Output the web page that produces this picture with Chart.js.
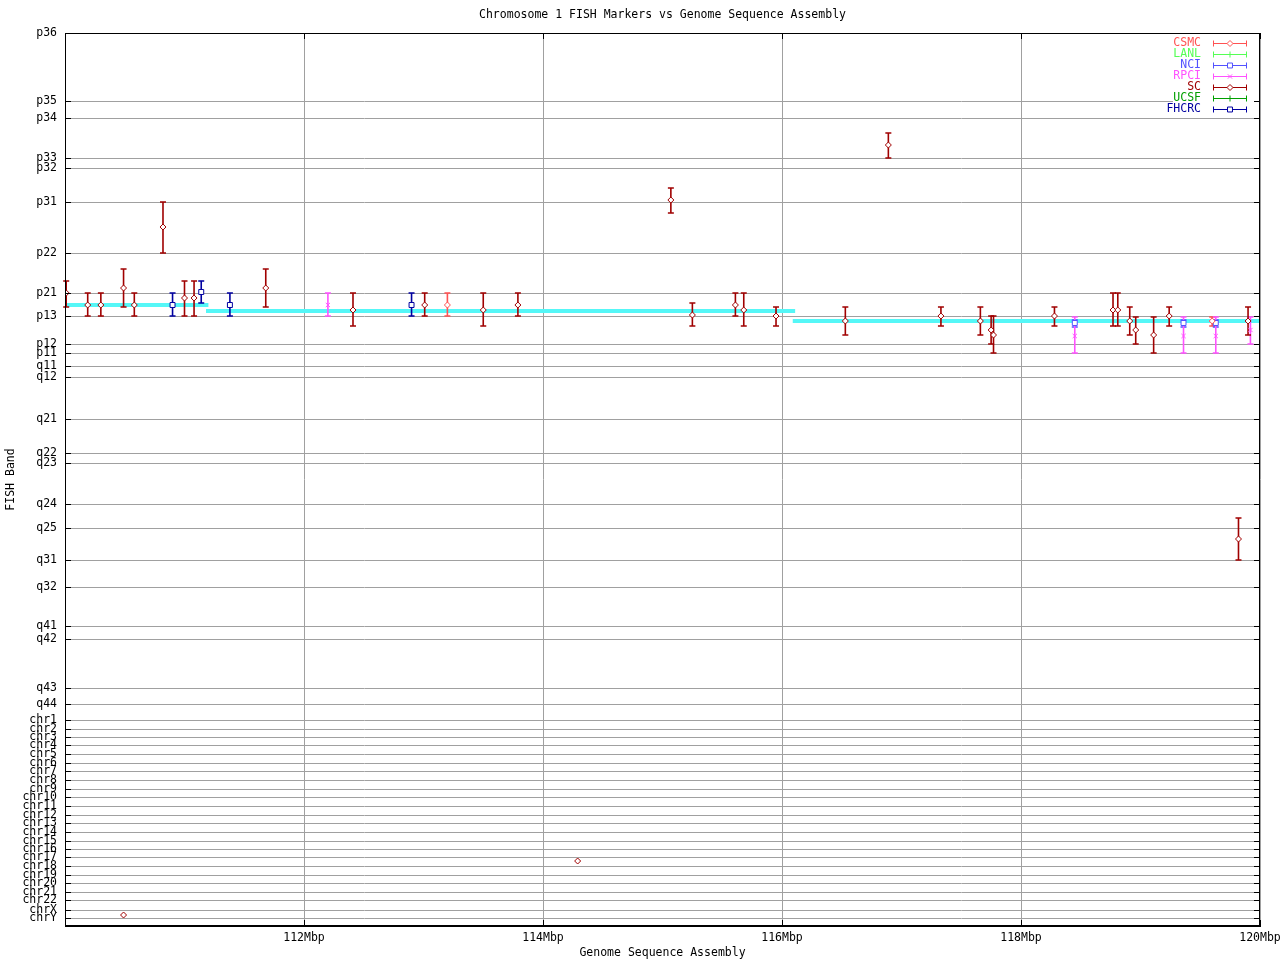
<!DOCTYPE html>
<html>
<head>
<meta charset="utf-8">
<title>Chromosome 1 FISH Markers vs Genome Sequence Assembly</title>
<script src="https://cdn.jsdelivr.net/npm/chart.js@4.4.1/dist/chart.umd.min.js"></script>
<style>
  html, body { margin: 0; padding: 0; background: #ffffff; }
  #chart { display: block; }
</style>
</head>
<body>
<canvas id="chart" width="1280" height="960"></canvas>
<script>
// 染色体带标签 和 它们在纵轴上的位置
const bandLabels = ['p36', 'p35', 'p34', 'p33', 'p32', 'p31', 'p22', 'p21', 'p13', 'p12', 'p11',
  'q11', 'q12', 'q21', 'q22', 'q23', 'q24', 'q25', 'q31', 'q32', 'q41', 'q42', 'q43', 'q44',
  'chr1', 'chr2', 'chr3', 'chr4', 'chr5', 'chr6', 'chr7', 'chr8', 'chr9', 'chr10', 'chr11', 'chr12',
  'chr13', 'chr14', 'chr15', 'chr16', 'chr17', 'chr18', 'chr19', 'chr20', 'chr21', 'chr22', 'chrX', 'chrY'];
const bandPos = [0, 68, 85, 125, 135, 169, 220, 260, 283, 311, 320,
  333, 344, 386, 420, 430, 471, 495, 527, 554, 593, 606, 655, 671,
  687, 696, 704, 712, 721, 730, 738, 747, 756, 764, 773, 782,
  790, 799, 808, 816, 824, 833, 842, 850, 859, 867, 877, 885];
const bandMax = 893;

// 横轴 (Mbp)
const xTicks = [110, 112, 114, 116, 118, 120];

// 序列组装 contig (青色)
const contigStart = [110.0, 111.18, 116.09];
const contigEnd = [111.2, 116.11, 120.0];
const contigBand = [272, 278, 288];

// SC
const scPos = [110.01, 110.19, 110.30, 110.49, 110.58, 110.82, 111.00, 111.08, 111.68, 112.41,
  113.01, 113.50, 113.79, 115.07, 115.25, 115.61, 115.68, 115.95, 116.53, 116.89,
  117.33, 117.66, 117.75, 117.77, 118.28, 118.77, 118.81, 118.91, 118.96, 119.11,
  119.24, 119.82, 119.90, 110.49, 114.29];
const scBand = [260, 272, 272, 255, 272, 194, 265, 265, 255, 277,
  272, 277, 272, 167, 282, 272, 277, 283, 288, 112,
  283, 288, 297, 302, 283, 277, 277, 288, 297, 302,
  283, 506, 288, 882, 828];
const scLow = [248, 260, 260, 236, 260, 169, 248, 248, 236, 260,
  260, 260, 260, 155, 270, 260, 260, 274, 274, 100,
  274, 274, 283, 283, 274, 260, 260, 274, 284, 284,
  274, 485, 274, null, null];
const scHigh = [274, 283, 283, 274, 283, 220, 283, 283, 274, 293,
  283, 293, 283, 180, 293, 283, 293, 293, 302, 125,
  293, 302, 311, 320, 293, 293, 293, 302, 311, 320,
  293, 527, 302, null, null];

// FHCRC
const fhcrcPos = [110.90, 111.14, 111.38, 112.90];
const fhcrcBand = [272, 259, 272, 272];
const fhcrcLow = [260, 248, 260, 260];
const fhcrcHigh = [283, 270, 283, 283];

// CSMC
const csmcPos = [113.20, 119.60];
const csmcBand = [272, 288];
const csmcLow = [260, 284];
const csmcHigh = [283, 293];

// RPCI
const rpciPos = [112.20, 118.45, 119.36, 119.63, 119.92];
const rpciBand = [272, 303, 303, 303, 297];
const rpciLow = [260, 284, 284, 284, 284];
const rpciHigh = [283, 320, 320, 320, 311];

// NCI
const nciPos = [118.45, 119.36, 119.63];
const nciBand = [290, 290, 290];
const nciLow = [287, 287, 287];
const nciHigh = [294, 294, 294];

// LANL, UCSF (本区间没有数据)
const lanlPos = [];
const lanlBand = [];
const ucsfPos = [];
const ucsfBand = [];

const FONT = "'DejaVu Sans Mono', 'Liberation Mono', monospace";
Chart.defaults.font.family = FONT;
Chart.defaults.font.size = 11.5;
Chart.defaults.color = '#000000';

function toPoints(pos, band) {
  return pos.map(function(x, i) { return { x: x, y: band[i] }; });
}

function series(label, color, style, radius, pos, band, low, high) {
  return {
    label: label,
    data: toPoints(pos, band),
    low: low || [],
    high: high || [],
    borderColor: color,
    backgroundColor: '#ffffff',
    pointStyle: style,
    pointRadius: radius,
    pointBorderWidth: 1,
    showLine: false
  };
}

// contig 线段, 用 null 断开
const contigData = [];
contigStart.forEach(function(s, i) {
  contigData.push({ x: s, y: contigBand[i] });
  contigData.push({ x: contigEnd[i], y: contigBand[i] });
  contigData.push({ x: contigEnd[i], y: null });
});

const datasets = [
  series('CSMC', '#ff5252', 'rectRot', 3, csmcPos, csmcBand, csmcLow, csmcHigh),
  series('LANL', '#55ff55', 'cross', 3, lanlPos, lanlBand),
  series('NCI', '#5252ff', 'rect', 3.5, nciPos, nciBand, nciLow, nciHigh),
  series('RPCI', '#ff52ff', 'crossRot', 3, rpciPos, rpciBand, rpciLow, rpciHigh),
  series('SC', '#a00000', 'rectRot', 3, scPos, scBand, scLow, scHigh),
  series('UCSF', '#00a000', 'cross', 3, ucsfPos, ucsfBand),
  series('FHCRC', '#0000a0', 'rect', 3.5, fhcrcPos, fhcrcBand, fhcrcLow, fhcrcHigh),
  {
    label: 'contig',
    data: contigData,
    showLine: true,
    spanGaps: false,
    borderColor: '#55f7f7',
    borderWidth: 4,
    pointRadius: 0,
    order: 10
  }
];
const contigIndex = datasets.length - 1;

// 误差线: 在 contig 之后、标记之前画
const errorBars = {
  id: 'errorBars',
  afterDatasetDraw: function(chart, args) {
    if (args.index !== contigIndex) return;
    const xs = chart.scales.x, ys = chart.scales.y, ctx = chart.ctx;
    ctx.save();
    ctx.lineWidth = 1.6;
    chart.data.datasets.forEach(function(ds) {
      if (!ds.low || !ds.low.length) return;
      ctx.strokeStyle = ds.borderColor;
      ds.data.forEach(function(p, i) {
        if (ds.low[i] == null) return;
        const px = xs.getPixelForValue(p.x);
        const y1 = ys.getPixelForValue(ds.low[i]);
        const y2 = ys.getPixelForValue(ds.high[i]);
        ctx.beginPath();
        ctx.moveTo(px, y1); ctx.lineTo(px, y2);
        ctx.moveTo(px - 3, y1); ctx.lineTo(px + 3, y1);
        ctx.moveTo(px - 3, y2); ctx.lineTo(px + 3, y2);
        ctx.stroke();
      });
    });
    ctx.restore();
  }
};

// 标题, 边框, 内侧刻度, 图例
const frame = {
  id: 'frame',
  afterDraw: function(chart) {
    const a = chart.chartArea, ctx = chart.ctx;
    const xs = chart.scales.x, ys = chart.scales.y;
    ctx.save();
    ctx.font = '11.5px ' + FONT;
    ctx.fillStyle = '#000000';
    ctx.textAlign = 'center';
    ctx.textBaseline = 'middle';
    ctx.fillText('Chromosome 1 FISH Markers vs Genome Sequence Assembly', (a.left + a.right) / 2, 15);

    ctx.strokeStyle = '#000000';
    ctx.lineWidth = 1;
    ctx.strokeRect(a.left + 0.5, a.top + 0.5, a.right - a.left - 1, a.bottom - a.top - 1);
    ctx.beginPath();
    ys.ticks.forEach(function(t) {
      const py = Math.round(ys.getPixelForValue(t.value)) + 0.5;
      ctx.moveTo(a.left, py); ctx.lineTo(a.left + 6, py);
      ctx.moveTo(a.right - 6, py); ctx.lineTo(a.right, py);
    });
    xs.ticks.forEach(function(t) {
      const px = Math.round(xs.getPixelForValue(t.value)) + 0.5;
      ctx.moveTo(px, a.bottom); ctx.lineTo(px, a.bottom - 6);
      ctx.moveTo(px, a.top); ctx.lineTo(px, a.top + 6);
    });
    ctx.stroke();

    // 图例
    ctx.fillStyle = '#ffffff';
    ctx.fillRect(a.right - 87, a.top + 3, 81, 80);
    const legendSets = chart.data.datasets.slice(0, contigIndex);
    legendSets.forEach(function(ds, i) {
      const ly = a.top + 10 + i * 11;
      const x1 = a.right - 47, x2 = a.right - 13;
      ctx.fillStyle = ds.borderColor;
      ctx.textAlign = 'right';
      ctx.fillText(ds.label, a.right - 59, ly);
      ctx.strokeStyle = ds.borderColor;
      ctx.lineWidth = 1;
      ctx.beginPath();
      ctx.moveTo(x1, ly + 0.5); ctx.lineTo(x2, ly + 0.5);
      ctx.moveTo(x1 + 0.5, ly - 2.5); ctx.lineTo(x1 + 0.5, ly + 3.5);
      ctx.moveTo(x2 - 0.5, ly - 2.5); ctx.lineTo(x2 - 0.5, ly + 3.5);
      ctx.stroke();
      ctx.fillStyle = '#ffffff';
      Chart.helpers.drawPoint(ctx, {
        pointStyle: ds.pointStyle, radius: ds.pointRadius, borderWidth: 1, rotation: 0
      }, (x1 + x2) / 2, ly + 0.5);
    });
    ctx.restore();
  }
};

new Chart(document.getElementById('chart'), {
  type: 'scatter',
  data: { datasets: datasets },
  options: {
    responsive: false,
    animation: false,
    events: [],
    layout: { padding: { top: 33, right: 20, bottom: 0, left: 0 } },
    plugins: {
      legend: { display: false },
      title: { display: false },
      tooltip: { enabled: false }
    },
    scales: {
      x: {
        type: 'linear',
        min: 110,
        max: 120,
        afterBuildTicks: function(scale) {
          scale.ticks = xTicks.map(function(v) { return { value: v }; });
        },
        afterFit: function(scale) {
          scale.height = 34;
          scale.paddingLeft = 0;
          scale.paddingRight = 0;
        },
        ticks: {
          padding: 5,
          maxRotation: 0,
          autoSkip: false,
          callback: function(v) { return v === 110 ? '' : v + 'Mbp'; }
        },
        grid: { color: '#a0a0a0', drawTicks: false },
        border: { color: '#000000' },
        title: { display: true, text: 'Genome Sequence Assembly', padding: 0 }
      },
      y: {
        type: 'linear',
        reverse: true,
        min: 0,
        max: bandMax,
        afterBuildTicks: function(scale) {
          scale.ticks = bandPos.map(function(v) { return { value: v }; });
        },
        afterFit: function(scale) {
          scale.width = 65;
          scale.paddingTop = 0;
          scale.paddingBottom = 0;
        },
        ticks: {
          padding: 8,
          autoSkip: false,
          callback: function(v) {
            const i = bandPos.indexOf(v);
            return i >= 0 ? bandLabels[i] : '';
          }
        },
        grid: { color: '#a0a0a0', drawTicks: false },
        border: { color: '#000000' },
        title: { display: true, text: 'FISH Band', padding: { top: 4, bottom: 0 } }
      }
    }
  },
  plugins: [errorBars, frame]
});
</script>
</body>
</html>
